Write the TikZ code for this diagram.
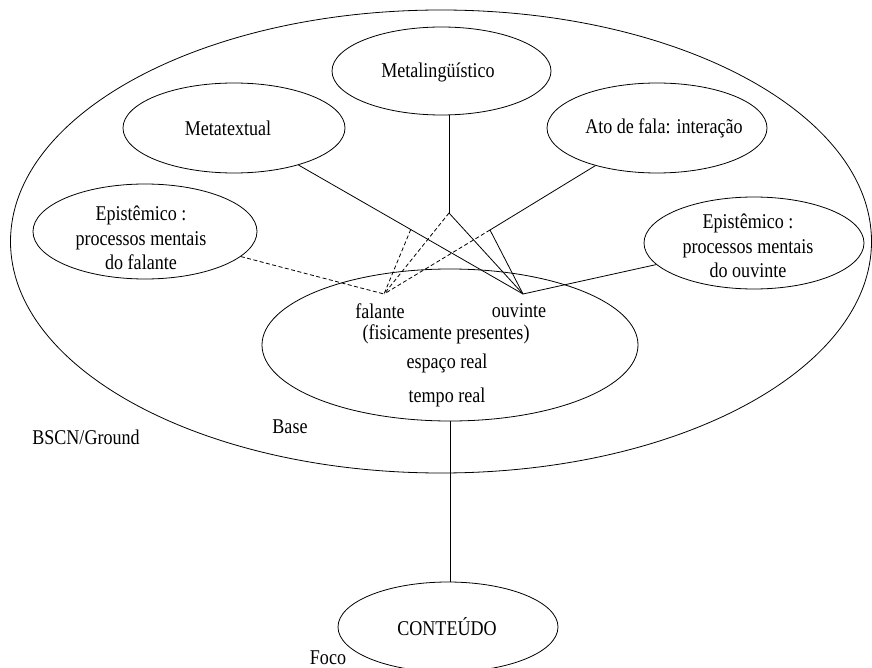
\documentclass[tikz,border=0pt]{standalone}
\usepackage{fontspec}
\setmainfont[FakeStretch=0.86]{Liberation Serif}
\usetikzlibrary{shapes.geometric,calc}
\begin{document}
\begin{tikzpicture}[x=1pt,y=-1pt,
  bubble/.style={draw,ellipse,inner sep=0pt,line width=0.8pt},
  txt/.style={font=\fontsize{21}{24.5}\selectfont,align=center,inner sep=0pt},
  link/.style={line width=0.8pt},
  dlink/.style={line width=0.8pt,dash pattern=on 4pt off 2.5pt}]
\useasboundingbox (0,0) rectangle (872,668);

% outer ground and inner ellipses
\node[bubble,minimum width=861pt,minimum height=463pt] (ground) at (441,241.5) {};
\node[bubble,minimum width=219pt,minimum height=88pt] (ml) at (441.5,71) {};
\node[bubble,minimum width=222pt,minimum height=90pt] (mt) at (234,128) {};
\node[bubble,minimum width=220pt,minimum height=90pt] (af) at (657,128) {};
\node[bubble,minimum width=224pt,minimum height=95pt] (el) at (145,231.5) {};
\node[bubble,minimum width=220pt,minimum height=92pt] (er) at (754,243) {};
\node[bubble,minimum width=376pt,minimum height=152pt] (base) at (450,345) {};
\node[bubble,minimum width=220pt,minimum height=90pt] (ct) at (448,627) {};

% texts
\node[txt] at (438,72) {Metalingüístico};
\node[txt] at (228,128) {Metatextual};
\node[txt] at (664,128) {Ato de fala: interação};
\node[txt] at (141,238) {Epistêmico :\\processos mentais\\do falante};
\node[txt] at (748,246) {Epistêmico :\\processos mentais\\do ouvinte};
\node[txt] (tf) at (380,311) {falante};
\node[txt] (to) at (519,311) {ouvinte};
\node[txt] at (446,334) {(fisicamente presentes)};
\node[txt] at (447,363) {espaço real};
\node[txt] at (447,397) {tempo real};
\node[txt] at (290,427) {Base};
\node[txt] at (86,437) {BSCN/Ground};
\node[txt] at (328,658) {Foco};
\node[txt] at (447,627) {CONTEÚDO};

% meeting points of the connectors
\coordinate (F) at (384,294);
\coordinate (O) at (523,294);
\coordinate (J1) at (449,213);
\coordinate (J3) at (490,230);

% connectors
\draw[link] (J1) -- (J1 |- ml.south);
\draw[link] (J1) -- (O);
\draw[dlink] (J1) -- (F);
\draw[link] (mt) -- (O) coordinate[pos=0.5] (K1);
\draw[dlink] (K1) -- (F);
\draw[link] (af) -- (J3);
\draw[link] (J3) -- (O);
\draw[dlink] (J3) -- (F);
\draw[dlink] (el) -- (F);
\draw[link] (er) -- (O);
\draw[link] (base.south) -- (base.south |- ct.north);
\end{tikzpicture}
\end{document}
